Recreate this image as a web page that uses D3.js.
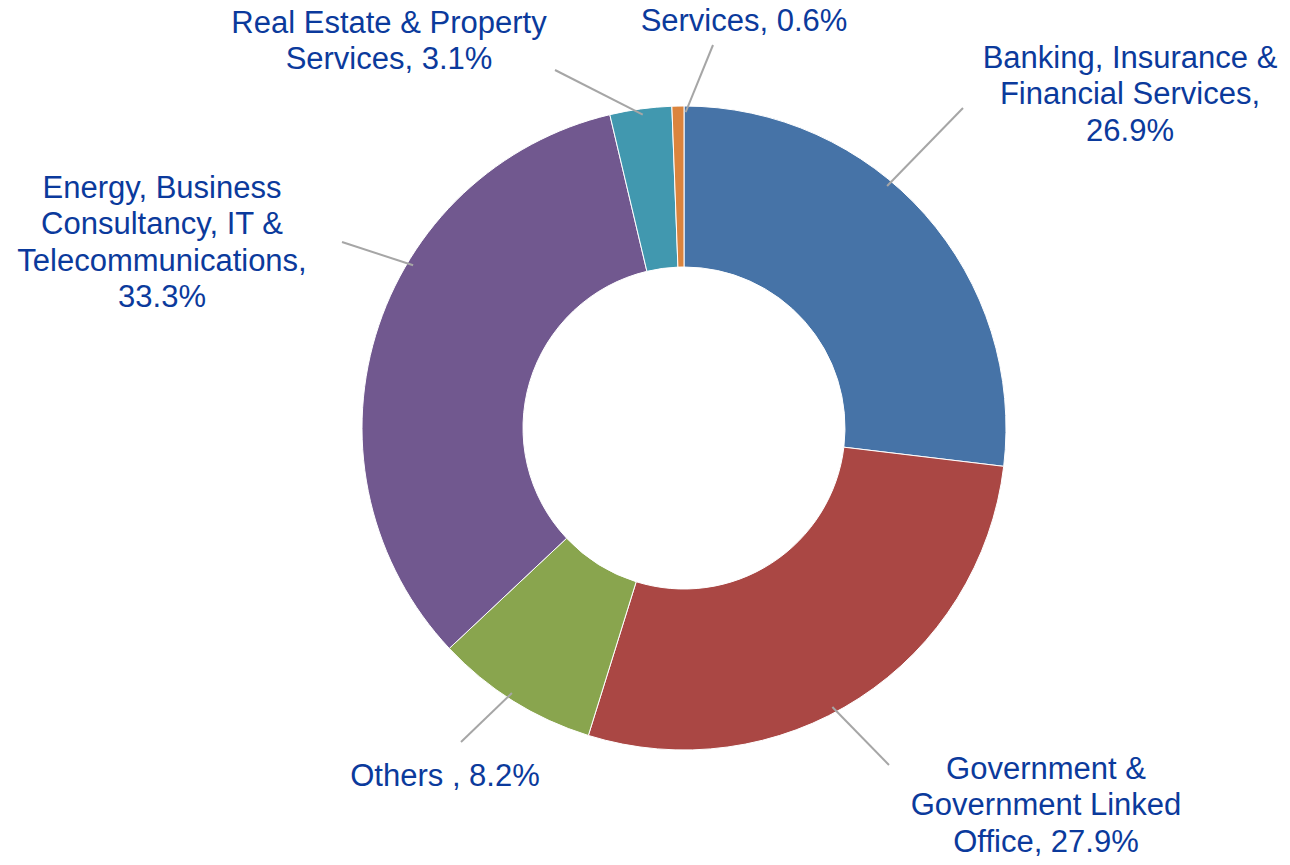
<!DOCTYPE html>
<html>
<head>
<meta charset="utf-8">
<script src="https://cdn.jsdelivr.net/npm/d3@7"></script>
<style>
  html, body { margin: 0; padding: 0; background: #fff; }
  .slice-label { font-family: "Liberation Sans", Arial, sans-serif; font-size: 31px; fill: #0b3a9c; }
</style>
</head>
<body>
<svg id="donut"></svg>
<script>
// chart data
const categories = [
  "Banking, Insurance & Financial Services",
  "Government & Government Linked Office",
  "Others ",
  "Energy, Business Consultancy, IT & Telecommunications",
  "Real Estate & Property Services",
  "Services"
];
const shares = [26.9, 27.9, 8.2, 33.3, 3.1, 0.6];
const labelLines = [
  ["Banking, Insurance &", "Financial Services,", "26.9%"],
  ["Government &", "Government Linked", "Office, 27.9%"],
  ["Others , 8.2%"],
  ["Energy, Business", "Consultancy, IT &", "Telecommunications,", "33.3%"],
  ["Real Estate & Property", "Services, 3.1%"],
  ["Services, 0.6%"]
];
const colors = ["#4673a7", "#aa4744", "#89a54e", "#71588f", "#4198af", "#db843d"];

// label placement (relative to the donut centre) and leader line anchors
const labelLayout = [
  { x: 446, y: -371, lineAngle: 40, endX: 279, endY: -320 },
  { x: 362, y: 340, lineAngle: 152, endX: 205, endY: 337 },
  { x: -239, y: 347, lineAngle: 213, endX: -223, endY: 314 },
  { x: -522, y: -241, lineAngle: 301, endX: -342, endY: -186 },
  { x: -295, y: -406, lineAngle: 352.5, endX: -129, endY: -358 },
  { x: 60, y: -408, lineAngle: 0.3, endX: 29, endY: -383 }
];

const width = 1290, height = 865;
const cx = 684, cy = 428;
const outerR = 322, innerR = 161;
const lineHeight = 36.5;

const svg = d3.select("#donut")
  .attr("width", width)
  .attr("height", height);

const g = svg.append("g").attr("transform", `translate(${cx}, ${cy})`);

const pie = d3.pie().sort(null).value((d) => d.value);
const arc = d3.arc().innerRadius(innerR).outerRadius(outerR);

const data = pie(shares.map((v, i) => ({ value: v, i })));

g.selectAll("path.slice")
  .data(data)
  .enter()
  .append("path")
  .attr("class", "slice")
  .attr("d", arc)
  .attr("fill", (d) => colors[d.data.i])
  .attr("stroke", "#fff")
  .attr("stroke-width", 1);

// leader lines
const rad = Math.PI / 180;
g.selectAll("line.leader")
  .data(data)
  .enter()
  .append("line")
  .attr("class", "leader")
  .attr("x1", (d) => Math.sin(labelLayout[d.data.i].lineAngle * rad) * (outerR - 6))
  .attr("y1", (d) => -Math.cos(labelLayout[d.data.i].lineAngle * rad) * (outerR - 6))
  .attr("x2", (d) => labelLayout[d.data.i].endX)
  .attr("y2", (d) => labelLayout[d.data.i].endY)
  .attr("stroke", "#a6a6a6")
  .attr("stroke-width", 2);

// labels
const labels = g.selectAll("text.slice-label")
  .data(data)
  .enter()
  .append("text")
  .attr("class", "slice-label")
  .attr("text-anchor", "middle")
  .attr("transform", (d) => `translate(${labelLayout[d.data.i].x}, ${labelLayout[d.data.i].y})`);

labels.each(function (d) {
  const lines = labelLines[d.data.i];
  d3.select(this)
    .selectAll("tspan")
    .data(lines)
    .enter()
    .append("tspan")
    .attr("x", 0)
    .attr("y", (t, k) => k * lineHeight)
    .attr("dy", "0.35em")
    .text((t) => t);
});
</script>
</body>
</html>
